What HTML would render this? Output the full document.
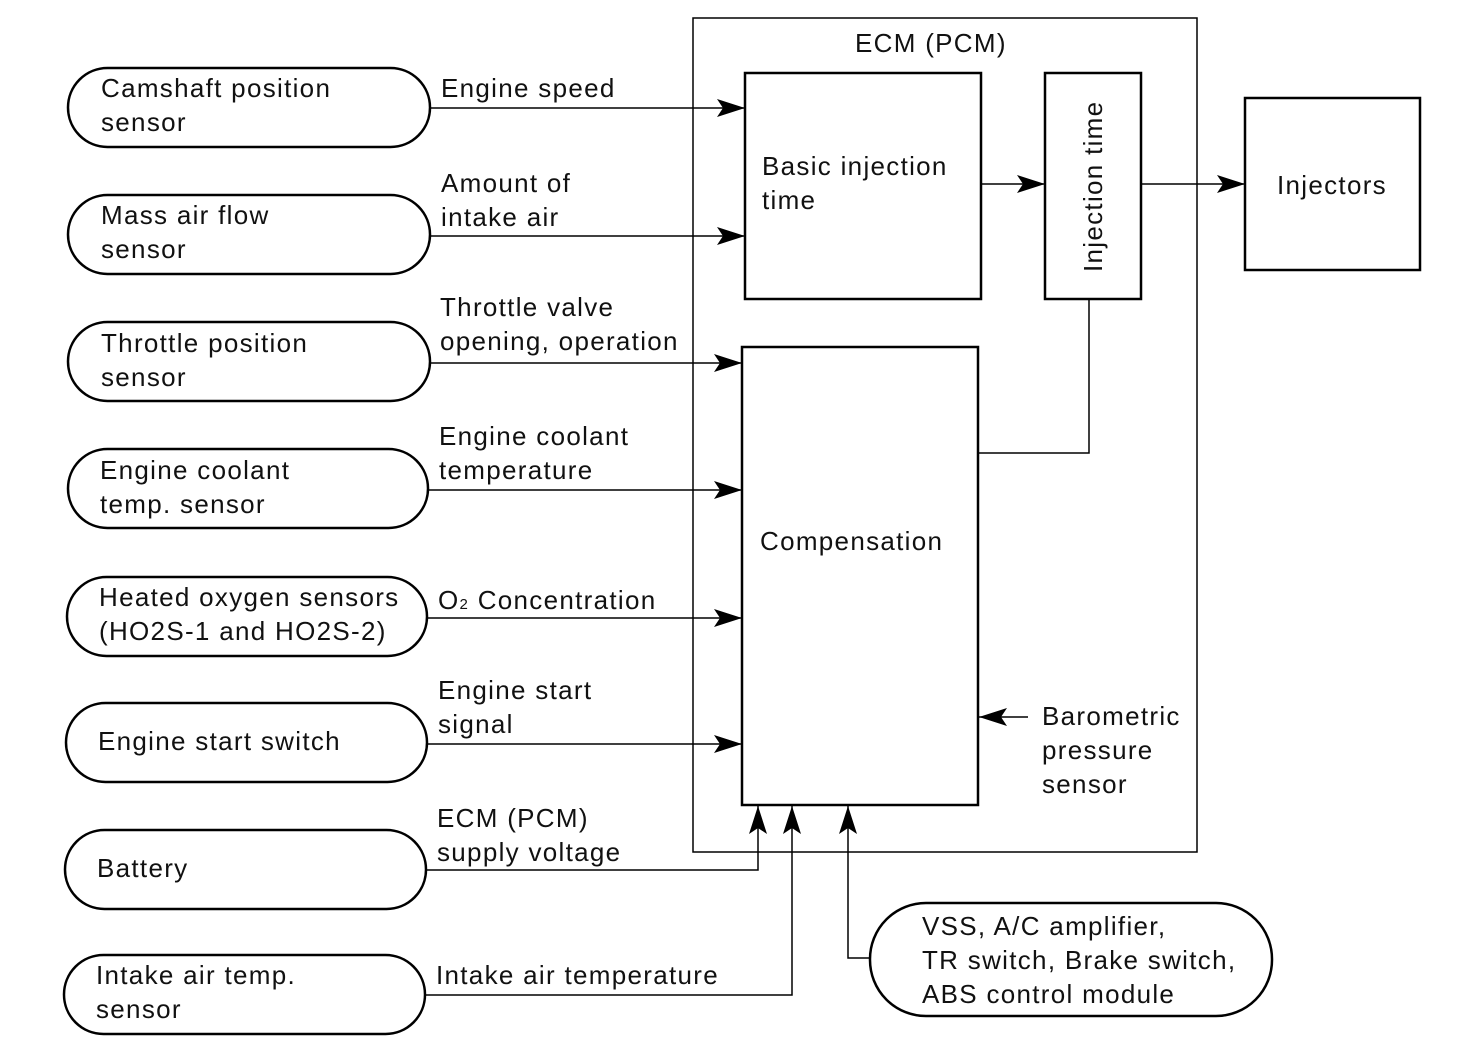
<!DOCTYPE html>
<html><head><meta charset="utf-8"><style>
html,body{margin:0;padding:0;background:#fff;}
svg{display:block;}
text{font-family:"Liberation Sans",sans-serif;font-size:26px;letter-spacing:1.3px;fill:#111;}
</style></head><body>
<svg width="1472" height="1046" viewBox="0 0 1472 1046" xmlns="http://www.w3.org/2000/svg">
<defs>
<marker id="a" markerWidth="30" markerHeight="22" refX="28" refY="11" orient="auto" markerUnits="userSpaceOnUse">
<path d="M0,2 L28,11 L0,20 L6,11 Z" fill="#000"/>
</marker>
</defs>
<g fill="none" stroke="#000">
<rect x="693" y="18" width="504" height="834" stroke-width="1.5"/>
<rect x="745" y="73" width="236" height="226" stroke-width="2.5"/>
<rect x="1045" y="73" width="96" height="226" stroke-width="2.5"/>
<rect x="1245" y="98" width="175" height="172" stroke-width="2.5"/>
<rect x="742" y="347" width="236" height="458" stroke-width="2.5"/>
<g stroke-width="2.5">
<rect x="68" y="68" width="362" height="79" rx="39.5"/>
<rect x="68" y="195" width="362" height="79" rx="39.5"/>
<rect x="68" y="322" width="362" height="79" rx="39.5"/>
<rect x="68" y="449" width="360" height="79" rx="39.5"/>
<rect x="67" y="577" width="360" height="79" rx="39.5"/>
<rect x="66" y="703" width="361" height="79" rx="39.5"/>
<rect x="65" y="830" width="361" height="79" rx="39.5"/>
<rect x="64" y="955" width="361" height="79" rx="39.5"/>
<rect x="870" y="903" width="402" height="113" rx="56"/>
</g>
<g stroke-width="1.5" marker-end="url(#a)">
<path d="M430,108 H745"/>
<path d="M430,236 H745"/>
<path d="M430,363 H742"/>
<path d="M428,490 H742"/>
<path d="M427,618 H742"/>
<path d="M427,744 H742"/>
<path d="M426,870 H758 V806"/>
<path d="M425,995 H792 V806"/>
<path d="M870,958 H848 V806"/>
<path d="M981,184 H1045"/>
<path d="M1141,184 H1245"/>
<path d="M1028,717 H979"/>
</g>
<path d="M978,453 H1089 V299" stroke-width="1.5"/>
</g>
<text x="855" y="52">ECM (PCM)</text>
<text x="762" y="175">Basic injection</text>
<text x="762" y="209">time</text>
<text transform="translate(1102,272) rotate(-90)">Injection time</text>
<text x="1277" y="194">Injectors</text>
<text x="760" y="550">Compensation</text>
<text x="1042" y="725">Barometric</text>
<text x="1042" y="759">pressure</text>
<text x="1042" y="793">sensor</text>
<text x="101" y="97">Camshaft position</text>
<text x="101" y="131">sensor</text>
<text x="101" y="224">Mass air flow</text>
<text x="101" y="258">sensor</text>
<text x="101" y="352">Throttle position</text>
<text x="101" y="386">sensor</text>
<text x="100" y="479">Engine coolant</text>
<text x="100" y="513">temp. sensor</text>
<text x="99" y="606">Heated oxygen sensors</text>
<text x="99" y="640">(HO2S-1 and HO2S-2)</text>
<text x="98" y="750">Engine start switch</text>
<text x="97" y="877">Battery</text>
<text x="96" y="984">Intake air temp.</text>
<text x="96" y="1018">sensor</text>
<text x="441" y="97">Engine speed</text>
<text x="441" y="192">Amount of</text>
<text x="441" y="226">intake air</text>
<text x="440" y="316">Throttle valve</text>
<text x="440" y="350">opening, operation</text>
<text x="439" y="445">Engine coolant</text>
<text x="439" y="479">temperature</text>
<text x="438" y="609">O<tspan font-size="15">2</tspan> Concentration</text>
<text x="438" y="699">Engine start</text>
<text x="438" y="733">signal</text>
<text x="437" y="827">ECM (PCM)</text>
<text x="437" y="861">supply voltage</text>
<text x="436" y="984">Intake air temperature</text>
<text x="922" y="935">VSS, A/C amplifier,</text>
<text x="922" y="969">TR switch, Brake switch,</text>
<text x="922" y="1003">ABS control module</text>
</svg>
</body></html>
